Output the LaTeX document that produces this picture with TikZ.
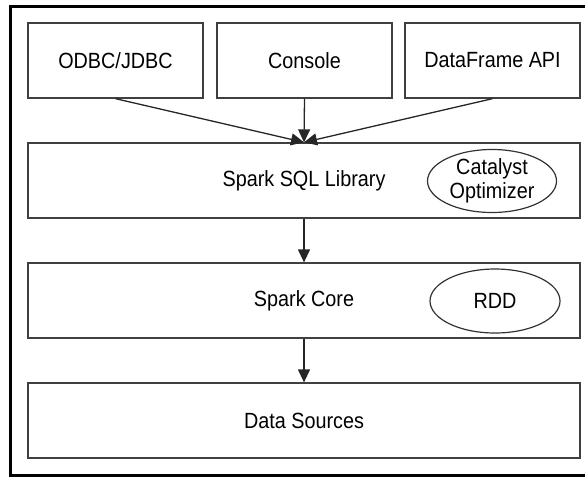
\documentclass[tikz,border=0pt]{standalone}
\usepackage{fontspec}
\setmainfont{Liberation Sans}[FakeStretch=0.9]
\usetikzlibrary{arrows.meta,shapes.geometric}
\begin{document}
\begin{tikzpicture}[x=1pt,y=-1pt,
  box/.style={draw=black!75,line width=1.3pt,rectangle,minimum height=75pt,inner sep=0pt,font=\fontsize{22}{26}\selectfont},
  topbox/.style={box,minimum width=175pt},
  widebox/.style={box,minimum width=552pt},
  oval/.style={draw=black!80,line width=1.2pt,ellipse,inner sep=0pt,align=center,font=\fontsize{22}{24}\selectfont},
  conn/.style={draw=black!85,line width=1.3pt,-{Triangle[length=13pt,width=12pt]}}]
\useasboundingbox (0,0) rectangle (585,477);
\draw[line width=3pt] (600,6) -- (10.5,6) -- (10.5,475.5) -- (600,475.5);
\node[topbox] (odbc) at (115.5,60.5) {ODBC/JDBC};
\node[topbox] (console) at (304.5,60.5) {Console};
\node[topbox] (df) at (492.5,60.5) {DataFrame API};
\node[widebox] (sql) at (304,180.5) {Spark SQL Library};
\node[widebox] (core) at (304,300.5) {Spark Core};
\node[widebox] (ds) at (304,420.5) {Data Sources};
\node[oval,minimum width=129pt,minimum height=63pt] (cat) at (492,181) {Catalyst\\Optimizer};
\node[oval,minimum width=130pt,minimum height=64pt] (rdd) at (495,301) {RDD};
\draw[conn] (odbc.south) -- (sql.north);
\draw[conn] (console.south) -- (sql.north);
\draw[conn] (df.south) -- (sql.north);
\draw[conn] (sql.south) -- (core.north);
\draw[conn] (core.south) -- (ds.north);
\end{tikzpicture}
\end{document}
